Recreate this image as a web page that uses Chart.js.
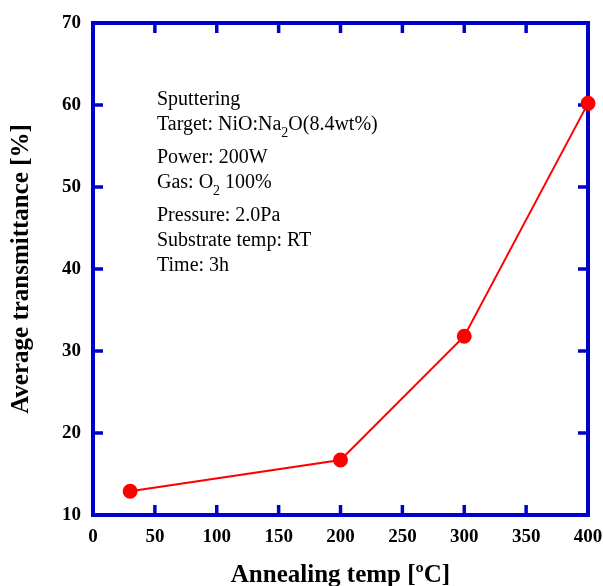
<!DOCTYPE html>
<html>
<head>
<meta charset="utf-8">
<script src="https://cdn.jsdelivr.net/npm/chart.js@4.4.1/dist/chart.umd.min.js"></script>
<style>
  html, body { margin: 0; padding: 0; background: #fff; }
  #wrap { width: 603px; height: 586px; }
</style>
</head>
<body>
<div id="wrap"><canvas id="chart"></canvas></div>
<script>
// annealing temperature (C) and average transmittance (%)
let temps = [30, 200, 300, 400];
let transmittance = [12.9, 16.7, 31.8, 60.2];

let xTicks = [0, 50, 100, 150, 200, 250, 300, 350, 400];
let yTicks = [10, 20, 30, 40, 50, 60, 70];

// condition notes, [text, subscript, rest]
let notes = [
    ['Sputtering', '', ''],
    ['Target: NiO:Na', '2', 'O(8.4wt%)'],
    ['Power: 200W', '', ''],
    ['Gas: O', '2', ' 100%'],
    ['Pressure: 2.0Pa', '', ''],
    ['Substrate temp: RT', '', ''],
    ['Time: 3h', '', '']
];
let noteY = [100, 125, 158, 183, 216, 241, 266];

const blue = '#0000CC';
const serif = "'Liberation Serif', 'Times New Roman', serif";

// frame, inner ticks and notes (drawn under the data)
const framePlugin = {
    id: 'frame',
    beforeDatasetsDraw(chart) {
        const ctx = chart.ctx;
        const a = chart.chartArea;
        const xs = chart.scales.x;
        const ys = chart.scales.y;
        ctx.save();
        ctx.strokeStyle = blue;
        ctx.lineWidth = 4;
        ctx.strokeRect(a.left, a.top, a.right - a.left, a.bottom - a.top);
        ctx.lineWidth = 3.5;
        ctx.beginPath();
        xTicks.forEach(v => {
            if (v === xTicks[0] || v === xTicks[xTicks.length - 1]) return;
            const px = xs.getPixelForValue(v);
            ctx.moveTo(px, a.bottom); ctx.lineTo(px, a.bottom - 10);
            ctx.moveTo(px, a.top); ctx.lineTo(px, a.top + 10);
        });
        yTicks.forEach(v => {
            if (v === yTicks[0] || v === yTicks[yTicks.length - 1]) return;
            const py = ys.getPixelForValue(v);
            ctx.moveTo(a.left, py); ctx.lineTo(a.left + 10, py);
            ctx.moveTo(a.right, py); ctx.lineTo(a.right - 10, py);
        });
        ctx.stroke();

        ctx.fillStyle = '#000';
        ctx.textBaseline = 'middle';
        notes.forEach((n, i) => {
            let x = 157;
            const y = noteY[i];
            ctx.font = '20px ' + serif;
            ctx.fillText(n[0], x, y);
            x += ctx.measureText(n[0]).width;
            if (n[1]) {
                ctx.font = '14px ' + serif;
                ctx.fillText(n[1], x, y + 8);
                x += ctx.measureText(n[1]).width;
                ctx.font = '20px ' + serif;
                ctx.fillText(n[2], x, y);
            }
        });
        ctx.restore();
    }
};

chart = new Chart(document.getElementById('chart'), {
    type: 'line',
    data: {
        datasets: [{
            data: temps.map((t, i) => ({ x: t, y: transmittance[i] })),
            borderColor: '#FF0000',
            backgroundColor: '#FF0000',
            borderWidth: 2,
            pointRadius: 6.5,
            pointHoverRadius: 6.5,
            tension: 0,
            clip: false
        }]
    },
    options: {
        responsive: true,
        maintainAspectRatio: false,
        animation: false,
        events: [],
        layout: { padding: { top: 23, right: 15, left: 0, bottom: 0 } },
        plugins: { legend: { display: false }, tooltip: { enabled: false } },
        scales: {
            x: {
                type: 'linear',
                min: 0, max: 400,
                afterBuildTicks: s => { s.ticks = xTicks.map(v => ({ value: v })); },
                afterFit: s => { s.height = 71; s.paddingLeft = 0; s.paddingRight = 0; },
                grid: { display: false, drawTicks: false },
                border: { display: false },
                ticks: { color: '#000', padding: 11, maxRotation: 0, font: { family: serif, size: 19, weight: 'bold' } },
                title: {
                    display: true,
                    text: 'Annealing temp [ºC]',
                    color: '#000',
                    padding: { top: 0, bottom: 0 },
                    font: { family: serif, size: 25, weight: 'bold', lineHeight: 0.8 }
                }
            },
            y: {
                type: 'linear',
                min: 10, max: 70,
                afterBuildTicks: s => { s.ticks = yTicks.map(v => ({ value: v })); },
                afterFit: s => { s.width = 93; s.paddingTop = 0; s.paddingBottom = 0; },
                grid: { display: false, drawTicks: false },
                border: { display: false },
                ticks: { color: '#000', padding: 12, font: { family: serif, size: 19, weight: 'bold' } },
                title: {
                    display: true,
                    text: 'Average transmittance [%]',
                    color: '#000',
                    padding: { top: 9, bottom: 0 },
                    font: { family: serif, size: 25, weight: 'bold', lineHeight: 1 }
                }
            }
        }
    },
    plugins: [framePlugin]
});
</script>
</body>
</html>
